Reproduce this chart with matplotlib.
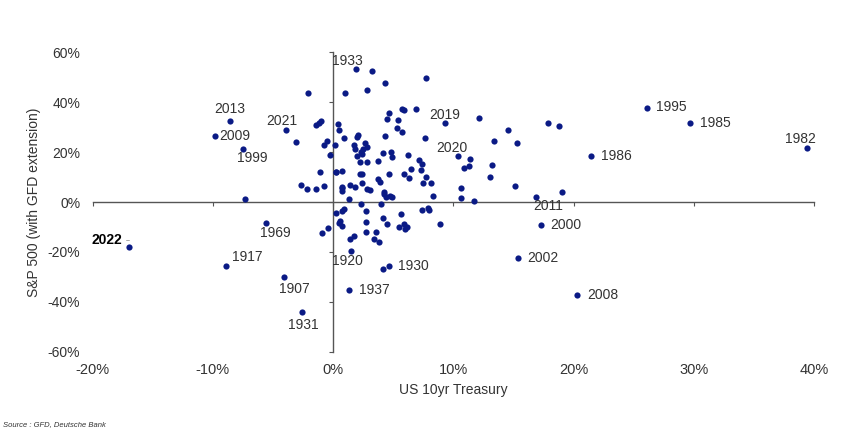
import matplotlib.pyplot as plt
from matplotlib.ticker import FuncFormatter

plt.rcParams['font.family'] = ['Liberation Sans', 'DejaVu Sans']

# annual returns in % : US 10yr Treasury (x) vs S&P 500 (y), unlabelled years
bond_ret = [-2.1, -3.1, -1.4, -1.2, -1.05, -0.55, -0.8, 0.17, -0.3, -1.1, 0.2, -2.7,
            -2.2, -1.4, -0.75, -7.3, 0.4, 0.5, -0.4, -0.9, 3.2, 7.7, 4.3, 1.0, 2.8,
            5.7, 5.9, 6.9, 4.6, 4.5, 5.4, 12.1, 17.9, 18.8, 5.3, 5.7, 4.3, 7.6, 14.5,
            15.3, 13.4, 0.9, 2.1, 2.0, 1.7, 1.8, 2.67, 2.8, 2.5, 2.3, 2.0, 2.4, 4.1,
            4.8, 4.9, 6.2, 11.4, 7.1, 2.25, 3.7, 2.8, 7.4, 11.3, 10.9, 13.2, 6.5, 7.3,
            5.9, 4.6, 2.2, 2.4, 0.2, 0.75, 7.7, 6.3, 3.75, 3.9, 13.0, 2.4, 7.5, 8.1,
            1.4, 1.8, 0.7, 0.7, 0.7, 2.8, 3.1, 4.2, 4.2, 15.1, 10.6, 8.3, 4.7, 4.9,
            4.4, 1.3, 10.6, 11.7, 19.0, 2.3, 4.0, 0.25, 0.7, 0.9, 2.75, 7.4, 7.9, 8.0,
            5.6, 8.9, 0.6, 0.45, 0.7, 2.7, 4.1, 4.5, 5.5, 5.9, 6.1, 6.0, 2.75, 3.6,
            1.4, 1.7, 3.4, 3.8, 4.1]
spx_ret = [43.5, 24.0, 30.7, 31.7, 32.5, 24.5, 22.7, 23.0, 18.9, 11.9, 11.9, 6.8,
           5.1, 5.2, 6.5, 1.2, 31.2, 28.8, -10.3, -12.3, 52.5, 49.7, 47.5, 43.5, 44.7,
           37.3, 36.7, 37.2, 35.7, 33.2, 32.8, 33.6, 31.7, 30.5, 29.7, 27.9, 26.3,
           25.7, 28.7, 23.7, 24.3, 25.7, 26.7, 25.9, 22.8, 21.3, 23.5, 22.1, 21.2,
           19.9, 18.4, 19.2, 19.7, 19.9, 18.1, 18.7, 17.1, 16.8, 16.0, 16.4, 16.0,
           15.1, 14.3, 13.7, 14.7, 13.1, 12.7, 11.2, 11.1, 11.1, 11.3, 12.1, 12.4,
           10.1, 9.5, 9.2, 8.0, 10.1, 7.6, 7.6, 7.5, 6.8, 6.0, 6.1, 4.5, 5.5, 5.2,
           4.9, 4.1, 3.2, 6.3, 5.5, 2.5, 2.3, 1.9, 2.1, 1.3, 1.7, 0.4, 4.0, -0.8,
           -0.7, -4.3, -3.6, -2.8, -3.7, -3.2, -2.3, -3.1, -4.9, -8.8, -7.6, -8.5,
           -9.6, -8.0, -6.5, -8.8, -10.1, -8.9, -9.9, -10.9, -11.9, -11.9, -14.8,
           -13.7, -14.9, -16.1, -26.7]

# labelled years
years = ['2022', '2013', '2009', '1999', '2021', '1933', '2019', '2020', '1995',
         '1985', '1982', '1986', '2011', '2000', '2002', '2008', '1920', '1930',
         '1937', '1969', '1917', '1907', '1931']
bond_lab = [-17.0, -8.6, -9.8, -7.5, -3.9, 1.86, 9.3, 10.4, 26.1, 29.7, 39.4, 21.4,
            16.9, 17.3, 15.4, 20.3, 1.5, 4.6, 1.3, -5.6, -8.9, -4.1, -2.6]
spx_lab = [-18.1, 32.5, 26.5, 21.2, 28.8, 53.1, 31.6, 18.5, 37.7, 31.7, 21.5, 18.5,
           2.1, -9.1, -22.3, -37.2, -19.7, -25.5, -35.2, -8.5, -25.5, -29.9, -44.1]
# label offsets from the dot, in pixels, and horizontal alignment
lab_dx = [-7, 0, 4, -6, -4, -8, 0, -6, 9, 10, -7, 10, 12, 9, 9, 10, -4, 9, 10, 9, 6, 10, 1]
lab_dy = [7, 12, 0, -9, 9, 8, 8, 8, 1, 0, 9, 0, -9, 0, 0, 0, -10, 0, 0, -10, 9, -12, -13]
lab_ha = ['right', 'center', 'left', 'left', 'center', 'center', 'center', 'center',
          'left', 'left', 'center', 'left', 'center', 'left', 'left', 'left',
          'center', 'left', 'left', 'center', 'left', 'center', 'center']

x_ticks = [-20, -10, 0, 10, 20, 30, 40]
y_ticks = [-60, -40, -20, 0, 20, 40, 60]

dot = '#0a1a85'
grey = '#555555'
txt = '#333333'
pct = FuncFormatter(lambda v, p: f'{v:.0f}%')

fig = plt.figure(figsize=(8.5, 4.46), dpi=100)
ax = fig.add_axes([0.109, 0.211, 0.849, 0.672])
ax.set_xlim(-20, 40)
ax.set_ylim(-60, 60)

ax.scatter(bond_ret, spx_ret, s=20, color=dot, linewidths=0, zorder=3)
ax.scatter(bond_lab, spx_lab, s=20, color=dot, linewidths=0, zorder=3)

for i, yr in enumerate(years):
    if yr == '2022':
        # the highlighted year gets a bold label and a small leader
        ax.annotate(yr, (bond_lab[i], spx_lab[i]), xytext=(lab_dx[i], lab_dy[i]),
                    textcoords='offset pixels', ha=lab_ha[i], va='center',
                    fontsize=10, color='black', fontweight='bold',
                    arrowprops=dict(arrowstyle='-', color='#999999', lw=0.6,
                                    connectionstyle='angle,angleA=0,angleB=90,rad=0',
                                    shrinkA=1, shrinkB=5))
    else:
        ax.annotate(yr, (bond_lab[i], spx_lab[i]), xytext=(lab_dx[i], lab_dy[i]),
                    textcoords='offset pixels', ha=lab_ha[i], va='center',
                    fontsize=10, color=txt)

# axis lines cross at zero
for side in ['top', 'right']:
    ax.spines[side].set_visible(False)
ax.spines['left'].set_position(('data', 0))
ax.spines['bottom'].set_position(('data', 0))
for side in ['left', 'bottom']:
    ax.spines[side].set_color(grey)
    ax.spines[side].set_linewidth(1.0)
ax.set_xticks(x_ticks)
ax.set_yticks(y_ticks)
ax.tick_params(direction='out', length=3, color=grey, labelleft=False, labelbottom=False)

# tick labels sit on the outer frame
sx = ax.secondary_xaxis(0.0)
sx.set_xticks(x_ticks)
sx.xaxis.set_major_formatter(pct)
sx.spines['bottom'].set_visible(False)
sx.tick_params(length=0, pad=8, labelsize=10.5, labelcolor=txt)
sx.set_xlabel('US 10yr Treasury', fontsize=10, color=txt, labelpad=4)

sy = ax.secondary_yaxis(0.0)
sy.set_yticks(y_ticks)
sy.yaxis.set_major_formatter(pct)
sy.spines['left'].set_visible(False)
sy.tick_params(length=0, pad=9, labelsize=10, labelcolor=txt)
sy.set_ylabel('S&P 500 (with GFD extension)', fontsize=10, color=txt, labelpad=5)

fig.text(0.004, 0.047, 'Source : GFD, Deutsche Bank', fontsize=5.5, style='italic',
         color=txt, ha='left', va='center')

fig.savefig('out.png', dpi=100)
